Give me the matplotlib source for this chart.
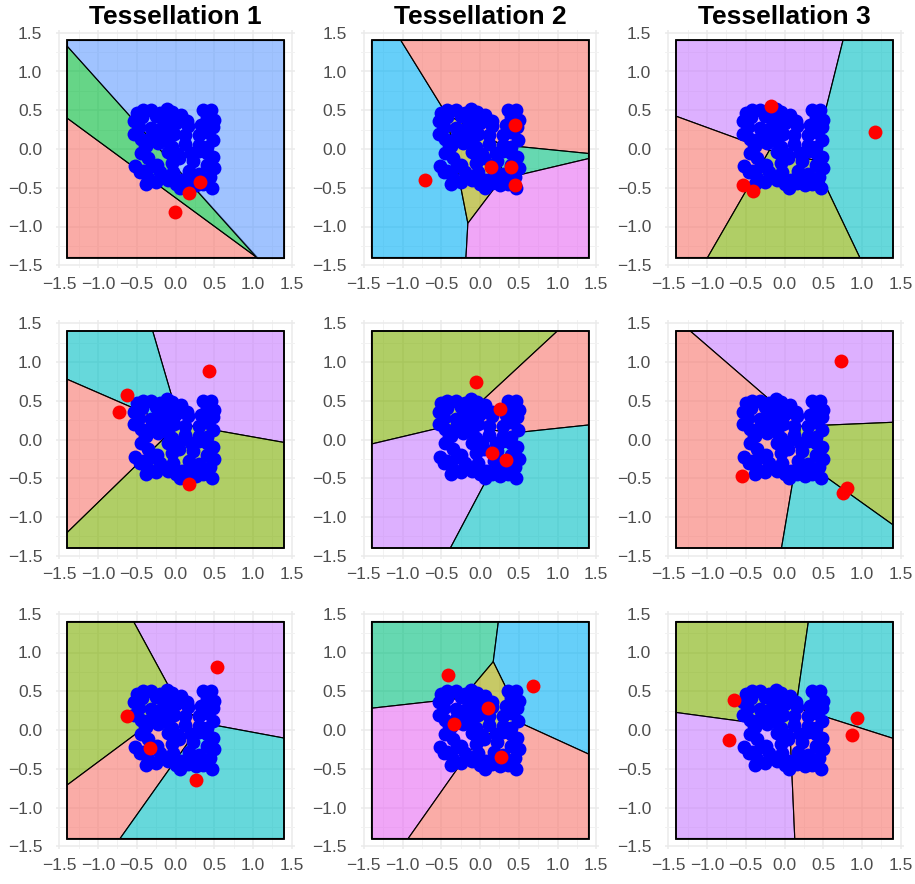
import numpy as np
import matplotlib
matplotlib.use("Agg")
import matplotlib.pyplot as plt
from matplotlib.patches import Polygon, Rectangle
from matplotlib.colors import to_rgba

plt.rcParams['font.family'] = ['Liberation Sans', 'DejaVu Sans']

# sample points (same in every panel)
blue_x = [-0.50, -0.42, -0.31, -0.20, -0.11, -0.04, 0.07, 0.36, 0.46,
          -0.53, -0.43, -0.25, -0.16, -0.08, 0.15, 0.40, 0.50,
          -0.47, -0.31, -0.22, -0.10, 0.00, 0.16, 0.33, 0.48,
          -0.53, -0.45, -0.30, -0.15, -0.02, 0.12, 0.30, 0.40,
          -0.40, -0.22, -0.10, -0.05, 0.30, 0.49, 0.40,
          -0.45, -0.35, -0.10, 0.03, 0.20, 0.30, 0.48,
          -0.52, -0.42, -0.30, -0.05, 0.05, 0.22, 0.40, 0.50,
          -0.20, -0.35, -0.03, 0.18, 0.30, 0.45,
          -0.38, -0.25, -0.10, 0.00, 0.06, 0.16, 0.26, 0.36, 0.47,
          0.40, -0.24, -0.38, 0.24, 0.08, -0.46, 0.12, 0.42]
blue_y = [0.47, 0.50, 0.50, 0.47, 0.52, 0.48, 0.44, 0.50, 0.50,
          0.36, 0.41, 0.42, 0.37, 0.40, 0.36, 0.41, 0.38,
          0.28, 0.27, 0.25, 0.30, 0.33, 0.30, 0.31, 0.29,
          0.20, 0.13, 0.17, 0.20, 0.20, 0.18, 0.18, 0.22,
          0.05, 0.08, 0.10, 0.02, 0.05, 0.12, 0.03,
          -0.05, -0.12, -0.04, -0.06, -0.05, -0.02, -0.10,
          -0.22, -0.28, -0.22, -0.18, -0.12, -0.15, -0.20, -0.25,
          -0.30, -0.38, -0.30, -0.28, -0.32, -0.36,
          -0.45, -0.42, -0.40, -0.45, -0.50, -0.44, -0.47, -0.45, -0.50,
          -0.05, -0.20, 0.04, -0.38, -0.40, -0.30, 0.06, 0.47]

# generators of each tessellation, row by row
seeds_x = [[-0.01, 0.17, 0.32],
           [-0.71, 0.455, 0.147, 0.40, 0.455],
           [-0.17, 1.17, -0.54, -0.41],
           [0.43, -0.63, -0.73, 0.17],
           [-0.055, 0.26, 0.16, 0.33],
           [0.73, -0.55, 0.80, 0.75],
           [0.53, -0.63, -0.325, 0.26],
           [-0.41, 0.69, 0.10, -0.34, 0.27],
           [-0.65, -0.72, 0.94, 0.87]]
seeds_y = [[-0.81, -0.565, -0.43],
           [-0.405, 0.315, -0.237, -0.237, -0.47],
           [0.55, 0.215, -0.465, -0.54],
           [0.89, 0.58, 0.35, -0.575],
           [0.74, 0.40, -0.17, -0.26],
           [1.01, -0.47, -0.62, -0.69],
           [0.81, 0.18, -0.23, -0.645],
           [0.71, 0.57, 0.28, 0.08, -0.35],
           [0.39, -0.13, 0.16, -0.06]]
seed_colours = [['#F8766D', '#00BA38', '#619CFF'],
                ['#00B0F6', '#F8766D', '#A3A500', '#00BF7D', '#E76BF3'],
                ['#C77CFF', '#00BFC4', '#F8766D', '#7CAE00'],
                ['#C77CFF', '#00BFC4', '#F8766D', '#7CAE00'],
                ['#7CAE00', '#F8766D', '#C77CFF', '#00BFC4'],
                ['#C77CFF', '#F8766D', '#7CAE00', '#00BFC4'],
                ['#C77CFF', '#7CAE00', '#F8766D', '#00BFC4'],
                ['#00BF7D', '#00B0F6', '#A3A500', '#E76BF3', '#F8766D'],
                ['#7CAE00', '#C77CFF', '#00BFC4', '#F8766D']]
titles = ['Tessellation 1', 'Tessellation 2', 'Tessellation 3']

B = 1.4
ticks = [-1.5, -1.0, -0.5, 0.0, 0.5, 1.0, 1.5]


def clip(poly, a, b, c):
    # keep the part of poly with a*x + b*y <= c
    out = []
    n = len(poly)
    for k in range(n):
        p = poly[k]
        q = poly[(k + 1) % n]
        fp = a * p[0] + b * p[1] - c
        fq = a * q[0] + b * q[1] - c
        if fp <= 0:
            out.append(p)
        if fp * fq < 0:
            t = fp / (fp - fq)
            out.append((p[0] + t * (q[0] - p[0]), p[1] + t * (q[1] - p[1])))
    return out


def voronoi_cells(xs, ys):
    cells = []
    for i in range(len(xs)):
        poly = [(-B, -B), (B, -B), (B, B), (-B, B)]
        for j in range(len(xs)):
            if i == j:
                continue
            a = xs[j] - xs[i]
            b = ys[j] - ys[i]
            c = (xs[j] ** 2 + ys[j] ** 2 - xs[i] ** 2 - ys[i] ** 2) / 2
            poly = clip(poly, a, b, c)
        cells.append(poly)
    return cells


W, H = 915, 884
fig = plt.figure(figsize=(W / 100, H / 100), dpi=100)
col_cx = [175.5, 480, 784.5]
row_cy = [149, 439.5, 730]
half = 1.54 * 77.5

for r in range(3):
    for c in range(3):
        k = r * 3 + c
        ax = fig.add_axes([(col_cx[c] - half) / W, 1 - (row_cy[r] + half) / H,
                           2 * half / W, 2 * half / H])
        ax.set_xlim(-1.54, 1.54)
        ax.set_ylim(-1.54, 1.54)
        ax.set_xticks(ticks)
        ax.set_yticks(ticks)
        ax.set_xticks(np.arange(-1.25, 1.5, 0.5), minor=True)
        ax.set_yticks(np.arange(-1.25, 1.5, 0.5), minor=True)
        ax.grid(which='major', color='#EBEBEB', lw=1.1)
        ax.grid(which='minor', color='#F2F2F2', lw=0.7)
        ax.set_axisbelow(True)
        for s in ax.spines.values():
            s.set_visible(False)
        ax.tick_params(which='both', length=0, labelsize=12.5, colors='#4D4D4D')
        ax.tick_params(axis='x', pad=6)
        ax.tick_params(axis='y', pad=10)

        cells = voronoi_cells(seeds_x[k], seeds_y[k])
        for poly, col in zip(cells, seed_colours[k]):
            ax.add_patch(Polygon(poly, closed=True, facecolor=to_rgba(col, 0.6),
                                 edgecolor='black', lw=0.8, zorder=2))
        ax.add_patch(Rectangle((-B, -B), 2 * B, 2 * B, fill=False,
                               edgecolor='black', lw=1.3, zorder=2))
        ax.scatter(blue_x, blue_y, s=100, color='#0000FF', linewidths=0, zorder=3)
        ax.scatter(seeds_x[k], seeds_y[k], s=100, color='#FF0000', linewidths=0, zorder=4)

for c in range(3):
    fig.text(col_cx[c] / W, 1 - 17 / H, titles[c], ha='center', va='center',
             fontsize=19, fontweight='bold')

fig.savefig('out.png', dpi=100)
